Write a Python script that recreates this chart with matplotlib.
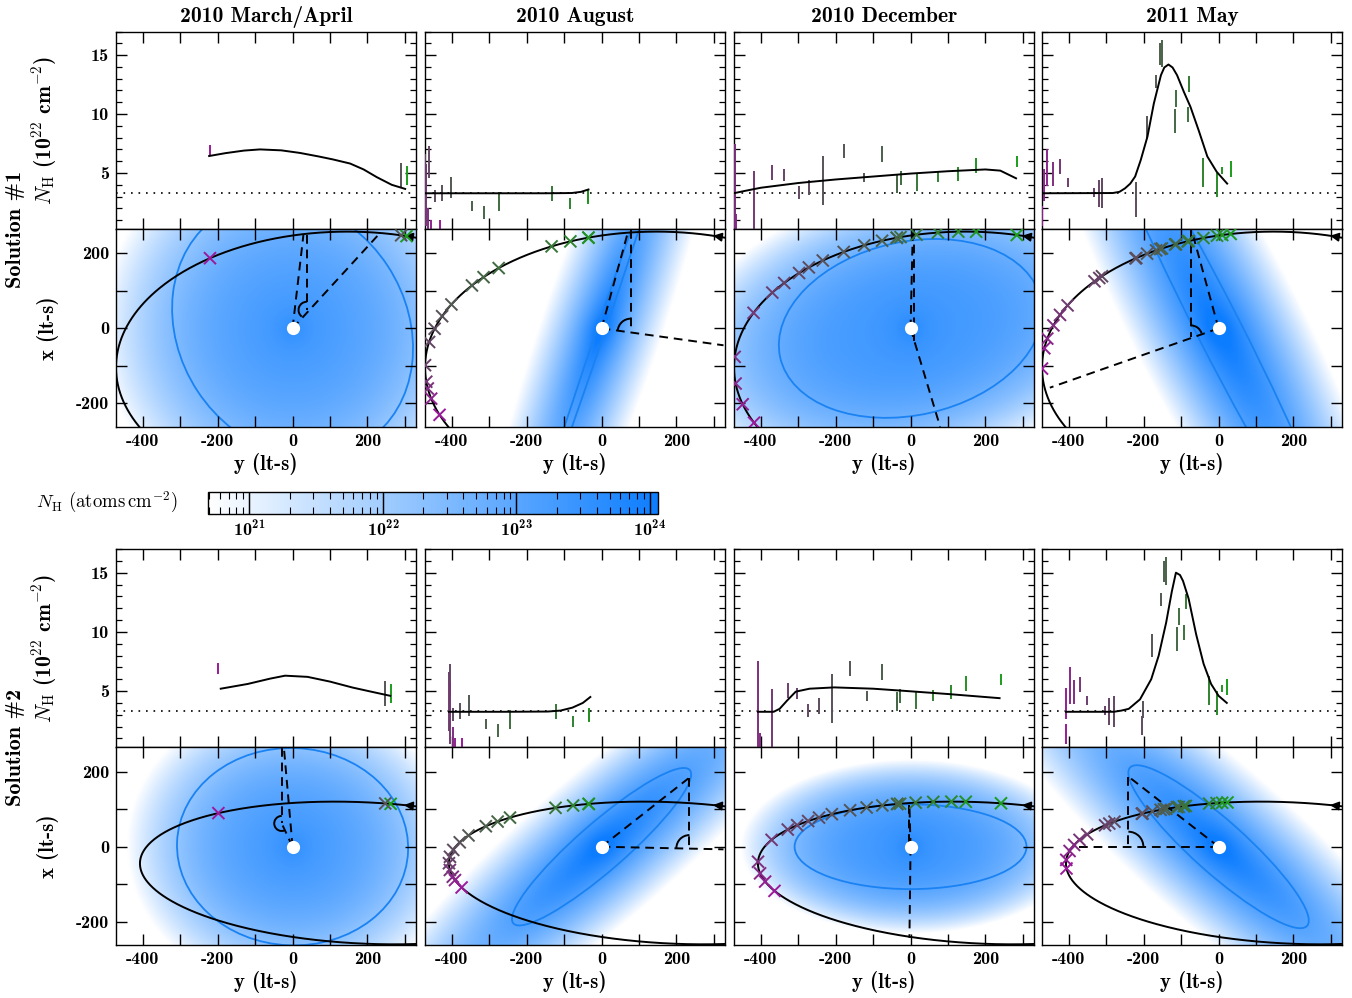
import numpy as np
import matplotlib
matplotlib.use('Agg')
import matplotlib.pyplot as plt
from matplotlib.colors import LinearSegmentedColormap, LogNorm
from matplotlib.patches import Ellipse, Arc
from matplotlib.ticker import MultipleLocator, FuncFormatter, LogLocator
import matplotlib.cm as cm

plt.rcParams['font.family'] = ['cmb10', 'DejaVu Serif']
plt.rcParams['mathtext.fontset'] = 'cm'
plt.rcParams['axes.unicode_minus'] = False

# ---------------- data ----------------
epochs = ['2010 March/April', '2010 August', '2010 December', '2011 May']
solution_labels = ['Solution #1', 'Solution #2']

y_range = [-472, 330]
x_range = [-262, 265]
nh_range = [0.25, 17.0]
nh_baseline = 3.28
cbar_log_range = [20.69, 24.06]
cbar_ticks = [1e21, 1e22, 1e23, 1e24]

# orbit ellipses per solution
orbit_yc = [147.0, 192.0]
orbit_xc = [-104.0, -70.0]
orbit_a = [619.0, 600.0]
orbit_b = [362.0, 188.5]
orbit_k = [0.0, -0.042]

# observations: N_H error ranges (1e22 cm^-2)
nh_lo_marapr = [4.0, 3.75, 6.4]
nh_hi_marapr = [5.6, 5.83, 7.4]
nh_lo_aug = [2.4, 2.5, 1.95, 2.6, 1.8, 1.1, 1.8, 2.9, 2.6, 2.5, 4.6, 1.6, 0.5, -0.5, -1.0, -1.0]
nh_hi_aug = [3.6, 3.5, 2.9, 3.9, 3.4, 2.2, 2.6, 4.7, 4.0, 3.6, 7.3, 6.6, 5.8, 2.0, 1.0, 1.0]
nh_lo_dec = [5.5, 5.0, 4.3, 4.2, 3.5, 4.0, 3.6, 3.3, 5.9, 4.2, 6.3, 2.3, 3.1, 2.8, 4.3, 4.4,
             -0.5, -0.5, -0.5, -2.0, -2.0]
nh_hi_dec = [6.4, 6.3, 5.5, 5.1, 5.0, 5.2, 4.9, 4.5, 7.3, 5.0, 7.5, 6.4, 4.4, 3.9, 5.3, 5.7,
             5.2, 7.5, 1.5, 0.0, -0.2]
nh_lo_may = [4.7, 4.9, 3.0, 3.8, 11.9, 9.3, 10.6, 8.4, 14.0, 14.2, 12.2, 7.9, 2.7, 1.3, 2.0,
             2.1, 3.0, 3.8, 4.9, 3.9, 3.9, 2.6, 0.5]
nh_hi_may = [6.0, 5.5, 5.0, 6.25, 13.2, 10.6, 12.0, 10.4, 16.3, 16.0, 13.3, 9.8, 4.2, 2.9, 4.6,
             4.4, 3.7, 4.6, 6.2, 5.9, 7.0, 5.3, 2.2]

# observation positions in orbital plane (y, x) in lt-s, solution 1
s1_y_marapr = [303, 287, -223]
s1_x_marapr = [242, 240, 189]
s1_y_aug = [-35, -35, -84, -133, -280, -320, -352, -405, -432, -451, -463, -472, -467, -463, -454, -436]
s1_x_aug = [242, 242, 233, 218, 164, 139, 117, 65, 34, 0, -36, -98, -142, -160, -187, -231]
s1_y_dec = [282, 175, 128, 74, 17, -26, -37, -37, -77, -126, -181, -240, -279, -304, -344, -376,
            -425, -467, -469, -454, -425]
s1_x_dec = [244, 253, 253, 251, 247, 242, 242, 242, 235, 224, 206, 185, 167, 151, 124, 98,
            43, -76, -147, -203, -253]
s1_y_may = [31, 9, -5, -41, -81, -84, -116, -118, -156, -160, -170, -192, -219, -221, -317, -326,
            -339, -406, -428, -446, -459, -464, -464]
s1_x_may = [256, 251, 249, 242, 235, 234, 227, 226, 218, 216, 211, 200, 187, 186, 142, 138,
            129, 62, 37, 9, -27, -53, -107]
# solution 2
s2_y_marapr = [261, 247, -192]
s2_x_marapr = [111, 113, 87]
s2_y_aug = [-33, -33, -74, -120, -240, -271, -303, -350, -374, -392, -403, -407, -405, -398, -392, -379]
s2_x_aug = [113, 113, 108.5, 102, 76, 65, 53, 29, 11, -9, -27, -44, -62, -80, -89, -109]
s2_y_dec = [241, 148, 110, 63, 15, -26, -33, -33, -71, -113, -157, -206, -240, -269, -298, -325,
            -369, -408, -408, -389, -367]
s2_x_dec = [113, 118, 118, 116, 116, 113, 112, 112, 107, 102, 95, 85, 76, 67, 56, 45,
            18, -40, -71, -93, -118]
s2_y_may = [22, 9, -5, -23, -85, -90, -103, -107, -134, -140, -148, -170, -197, -200, -272, -286,
            -299, -352, -370, -388, -402, -408, -408]
s2_x_may = [120, 118, 116, 113, 107, 106, 104, 103, 98, 97, 95, 91, 86, 86, 65, 60,
            56, 33, 18, 5, -11, -35, -58]

# model N_H curves (y position in lt-s, N_H in 1e22)
c1_y_marapr = [-223, -180, -130, -87, -30, 20, 70, 108, 154, 190, 225, 265, 301]
c1_n_marapr = [6.44, 6.68, 6.9, 7.0, 6.92, 6.7, 6.4, 6.15, 5.8, 5.3, 4.65, 4.0, 3.65]
c1_y_aug = [-472, -300, -150, -80, -55, -35]
c1_n_aug = [3.28, 3.28, 3.28, 3.3, 3.4, 3.6]
c1_y_dec = [-470, -440, -400, -300, -200, -100, 0, 100, 200, 240, 282]
c1_n_dec = [3.3, 3.5, 3.75, 4.15, 4.45, 4.7, 4.95, 5.15, 5.3, 5.2, 4.55]
c1_y_may = [-472, -283, -265, -250, -236, -223, -208, -190, -173, -154, -145, -134, -123, -111,
            -93, -75, -53, -30, -5, 23]
c1_n_may = [3.28, 3.3, 3.4, 3.7, 4.1, 4.7, 6.1, 8.1, 10.9, 13.3, 13.95, 14.2, 13.95, 13.3,
            11.9, 10.6, 8.6, 6.4, 5.1, 4.1]
c2_y_marapr = [-192, -120, -60, -20, 40, 100, 160, 210, 261]
c2_n_marapr = [5.2, 5.6, 6.05, 6.3, 6.2, 5.8, 5.3, 4.95, 4.6]
c2_y_aug = [-408, -250, -144, -110, -78, -50, -30]
c2_n_aug = [3.25, 3.25, 3.27, 3.35, 3.6, 4.0, 4.5]
c2_y_dec = [-408, -366, -350, -330, -307, -270, -204, -100, -22, 100, 238]
c2_n_dec = [3.25, 3.25, 3.5, 4.2, 4.95, 5.2, 5.31, 5.2, 5.03, 4.75, 4.4]
c2_y_may = [-408, -280, -260, -240, -210, -180, -160, -140, -125, -114, -103, -95, -80, -60,
            -40, -20, 0, 22]
c2_n_may = [3.25, 3.25, 3.35, 3.5, 4.3, 6.0, 8.0, 10.8, 13.4, 15.0, 14.8, 14.3, 12.8, 9.8,
            7.3, 5.6, 4.6, 4.0]

# absorbing-medium model per panel [solution][epoch]
dens_logc = [[23.2, 24.0, 23.3, 24.0], [23.2, 23.9, 23.3, 23.9]]
dens_sa = [[520, 1000, 640, 1000], [450, 900, 460, 900]]
dens_sb = [[520, 165, 380, 230], [400, 200, 235, 215]]
dens_ang = [[33.4, 71.2, 12.5, 117.1], [-2.4, 40.9, 0.0, -41.7]]
dens_pow = [[2.5, 1.0, 3.0, 1.3], [2.5, 1.3, 3.0, 1.3]]
cont_a = [[304, 600, 357, 700], [309, 312, 310, 317]]
cont_b = [[360, 11, 231, 59], [263, 64, 113, 70]]

# geometry annotations (dashed construction lines) per panel
ann_P = [[(29, 249), (72, 262), (6, 262), (-72, 262)], [(-23, 262), (232, 182), (-3, 111), (-241, 187)]]
ann_T = [[(38, 249), (78, 262), (10, 262), (-74, 262)], [(-29, 262), (235, 182), (-3, 111), (-241, 187)]]
ann_V = [[(38, 49), (78, -9), (10, -45), (-74, -22)], [(-29, 62), (235, -4), (-3, 0), (-241, 0)]]
ann_E = [[(229, 249), (326, -45), (79, -262), (-451, -158)], [(-29, 62), (326, -7), (-3, -243), (-388, 0)]]
ann_r = [[22, 35, 15, 30], [20, 35, 0, 40]]

# ---------------- assemble ----------------
nh_lo = [nh_lo_marapr, nh_lo_aug, nh_lo_dec, nh_lo_may]
nh_hi = [nh_hi_marapr, nh_hi_aug, nh_hi_dec, nh_hi_may]
obs_y = [[s1_y_marapr, s1_y_aug, s1_y_dec, s1_y_may], [s2_y_marapr, s2_y_aug, s2_y_dec, s2_y_may]]
obs_x = [[s1_x_marapr, s1_x_aug, s1_x_dec, s1_x_may], [s2_x_marapr, s2_x_aug, s2_x_dec, s2_x_may]]
curve_y = [[c1_y_marapr, c1_y_aug, c1_y_dec, c1_y_may], [c2_y_marapr, c2_y_aug, c2_y_dec, c2_y_may]]
curve_n = [[c1_n_marapr, c1_n_aug, c1_n_dec, c1_n_may], [c2_n_marapr, c2_n_aug, c2_n_dec, c2_n_may]]

nh_cmap = LinearSegmentedColormap.from_list('nh', ['#ffffff', '#0d7dff'])
obs_cmap = LinearSegmentedColormap.from_list('obs', ['#1c9c1c', '#3f6e3f', '#555555', '#6a3f6a', '#9a1a9a'])
contour_color = '#1a82f2'


def orbit_xy(s, t):
    c = np.cos(t)
    sn = np.sin(t)
    yy = orbit_yc[s] + orbit_a[s] * c
    xx = orbit_xc[s] + orbit_k[s] * orbit_a[s] * c + orbit_b[s] * sn
    return yy, xx


def orbit_phase(s, yy, xx):
    yy = np.asarray(yy, float)
    xx = np.asarray(xx, float)
    c = (yy - orbit_yc[s]) / orbit_a[s]
    sn = (xx - orbit_xc[s] - orbit_k[s] * (yy - orbit_yc[s])) / orbit_b[s]
    return np.arctan2(sn, c)


W, H = 1352, 998
fig = plt.figure(figsize=(W / 100, H / 100), dpi=100)
col_left = [116, 425, 734, 1042]
panel_w = 300
rows = [(31.5, 229.0, 426.7), (549.0, 747.3, 945.0)]


def px_axes(l, t, w, h):
    return fig.add_axes([l / W, 1 - (t + h) / H, w / W, h / H])


def style(ax):
    ax.tick_params(which='both', direction='in', top=True, right=True, bottom=True, left=True,
                   labelsize=13, pad=5)
    ax.tick_params(which='major', length=8, width=1.0)
    ax.tick_params(which='minor', length=4, width=0.9)
    for sp in ax.spines.values():
        sp.set_linewidth(1.0)


lab200 = FuncFormatter(lambda v, p: ('%d' % round(v)) if abs(round(v)) % 200 == 0 else '')

gy = np.linspace(y_range[0], y_range[1], 402)
gx = np.linspace(x_range[0], x_range[1], 266)
YY, XX = np.meshgrid(gy, gx)
tt = np.linspace(0, 2 * np.pi, 800)

for s in range(2):
    top_nh, mid, bot = rows[s]
    for e in range(4):
        L = col_left[e]
        axn = px_axes(L, top_nh, panel_w, mid - top_nh)
        axo = px_axes(L, mid, panel_w, bot - mid)
        n = len(nh_lo[e])
        cols = [obs_cmap(i / max(n - 1, 1)) for i in range(n)]
        ph = orbit_phase(s, obs_y[s][e], obs_x[s][e])
        py_, px_ = orbit_xy(s, ph)

        # ---- N_H panel ----
        axn.axhline(nh_baseline, color='k', ls=(0, (1, 3.5)), lw=1.2)
        axn.vlines(py_, nh_lo[e], nh_hi[e], colors=cols, lw=1.4, zorder=3)
        axn.plot(curve_y[s][e], curve_n[s][e], color='k', lw=1.4, zorder=4)
        axn.set_xlim(*y_range)
        axn.set_ylim(*nh_range)
        axn.xaxis.set_major_locator(MultipleLocator(100))
        axn.yaxis.set_major_locator(MultipleLocator(5))
        axn.yaxis.set_minor_locator(MultipleLocator(1))
        style(axn)
        axn.tick_params(labelbottom=False)
        if e > 0:
            axn.tick_params(labelleft=False)
        else:
            axn.set_ylabel(r'$N_{\rm H}$ (10$^{22}$ cm$^{-2}$)', fontsize=15.5)
            axn.yaxis.set_label_coords(-0.19, 0.5)
        if s == 0:
            axn.set_title(epochs[e], fontsize=15.5, pad=7)

        # ---- orbit panel ----
        th = np.radians(dens_ang[s][e])
        u = YY * np.cos(th) + XX * np.sin(th)
        v = -YY * np.sin(th) + XX * np.cos(th)
        q = np.sqrt((u / dens_sa[s][e]) ** 2 + (v / dens_sb[s][e]) ** 2)
        lc = dens_logc[s][e]
        logN = lc - (lc - 20.6) * q ** dens_pow[s][e] + 0.45 * np.exp(-np.hypot(YY, XX) / 45.0)
        axo.imshow(logN, extent=(y_range[0], y_range[1], x_range[0], x_range[1]), origin='lower',
                   cmap=nh_cmap, vmin=cbar_log_range[0], vmax=cbar_log_range[1], aspect='auto',
                   interpolation='bilinear', zorder=0)
        axo.add_patch(Ellipse((0, 0), 2 * cont_a[s][e], 2 * cont_b[s][e], angle=dens_ang[s][e],
                              fill=False, ec=contour_color, lw=1.3, zorder=1))
        oy, ox = orbit_xy(s, tt)
        axo.plot(oy, ox, color='k', lw=1.4, zorder=2)
        # direction arrow near right edge
        ta = np.arccos((322 - orbit_yc[s]) / orbit_a[s])
        tb = np.arccos((298 - orbit_yc[s]) / orbit_a[s])
        axo.annotate('', xy=orbit_xy(s, tb), xytext=orbit_xy(s, ta),
                     arrowprops=dict(arrowstyle='-|>', color='k', lw=1.2, mutation_scale=13,
                                     shrinkA=0, shrinkB=0), zorder=3)
        # construction lines
        dash = (0, (4.5, 3))
        P = ann_P[s][e]; T = ann_T[s][e]; V = ann_V[s][e]; E = ann_E[s][e]
        axo.plot([0, P[0]], [0, P[1]], color='k', ls=dash, lw=1.4, zorder=3)
        axo.plot([T[0], V[0]], [T[1], V[1]], color='k', ls=dash, lw=1.4, zorder=3)
        axo.plot([0, E[0]], [0, E[1]], color='k', ls=dash, lw=1.4, zorder=3)
        r = ann_r[s][e]
        if r > 0:
            ang_vo = np.degrees(np.arctan2(-V[1], -V[0])) % 360
            t1, t2 = (90, ang_vo) if ang_vo > 90 else (ang_vo, 90)
            axo.add_patch(Arc(V, 2 * r, 2 * r, theta1=t1, theta2=t2, color='k', lw=1.4, zorder=3))
        axo.scatter(py_, px_, marker='x', s=75, c=cols, linewidths=1.4, zorder=4)
        axo.plot([0], [0], 'o', ms=8.5, color='white', mec='white', zorder=5)
        axo.set_xlim(*y_range)
        axo.set_ylim(*x_range)
        axo.xaxis.set_major_locator(MultipleLocator(100))
        axo.yaxis.set_major_locator(MultipleLocator(100))
        axo.xaxis.set_major_formatter(lab200)
        axo.yaxis.set_major_formatter(lab200)
        style(axo)
        axo.set_xlabel('y (lt-s)', fontsize=15, labelpad=3)
        if e > 0:
            axo.tick_params(labelleft=False)
        else:
            axo.set_ylabel('x (lt-s)', fontsize=15)
            axo.yaxis.set_label_coords(-0.19, 0.5)

    fig.text(16 / W, 1 - mid / H, solution_labels[s], rotation=90, ha='center', va='center',
             fontsize=16)

# ---------------- colour bar ----------------
cax = px_axes(208, 492, 450, 22)
sm = cm.ScalarMappable(norm=LogNorm(10 ** cbar_log_range[0], 10 ** cbar_log_range[1]), cmap=nh_cmap)
cb = fig.colorbar(sm, cax=cax, orientation='horizontal')
cb.set_ticks(cbar_ticks)
cax.xaxis.set_minor_locator(LogLocator(base=10, subs=np.arange(2, 10)))
cax.tick_params(which='major', direction='in', length=16, width=0.9, top=True, bottom=True,
                labelsize=13, pad=4)
cax.tick_params(which='minor', direction='in', length=5, width=0.8, top=True, bottom=True)
cb.outline.set_linewidth(1.0)
fig.text(107 / W, 1 - 502 / H, r'$N_{\rm H}$ (atoms$\,$cm$^{-2}$)', ha='center', va='center',
         fontsize=13.5, family=['cmr10', 'DejaVu Serif'])

fig.savefig('out.png', dpi=100)
